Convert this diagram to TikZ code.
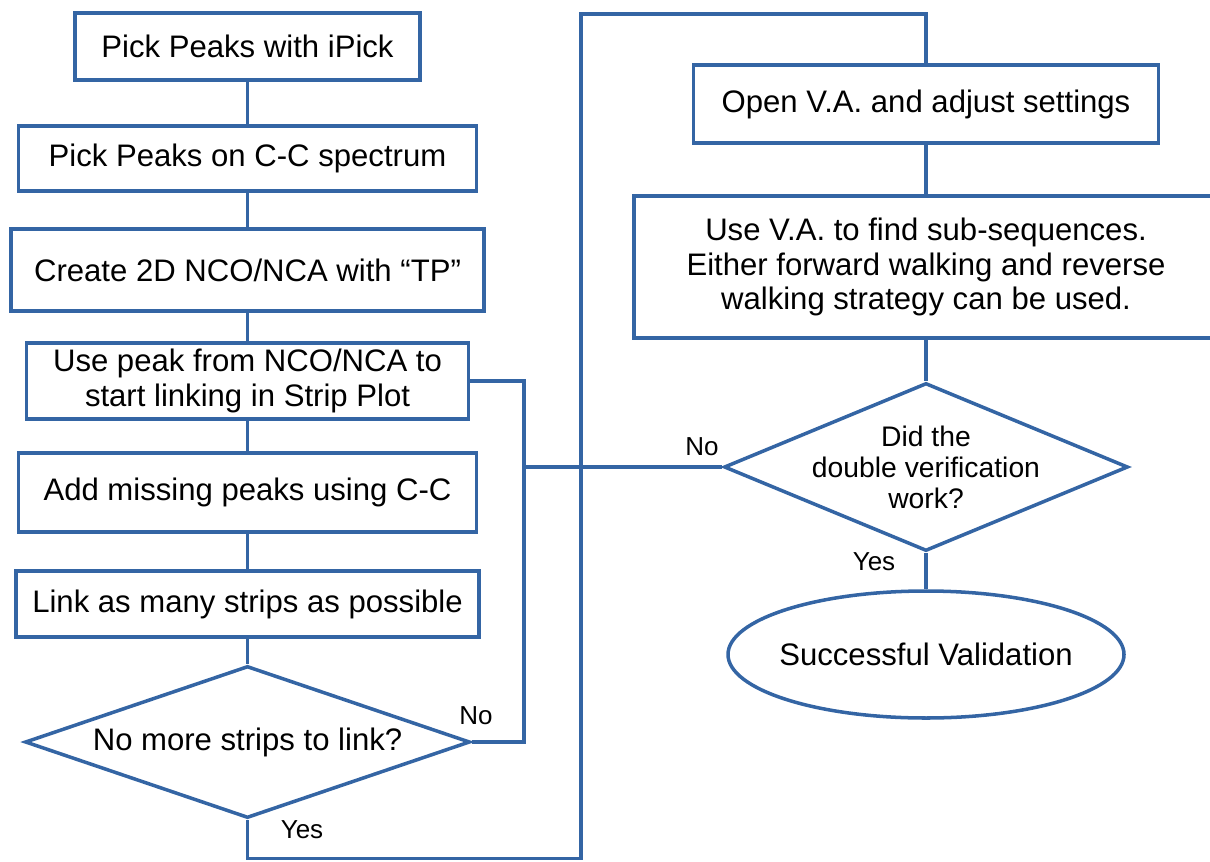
\documentclass[tikz,border=0pt]{standalone}
\usepackage{fontspec}
\setmainfont{Liberation Sans}
\usetikzlibrary{shapes.geometric}

\definecolor{flowblue}{RGB}{52,101,164}
\tikzset{
    procbox/.style={draw=flowblue, line width=2pt, fill=white, align=center,
        inner sep=0pt, font=\fontsize{17.7}{19.4}\selectfont},
    choice/.style={diamond, draw=flowblue, line width=2pt, inner sep=0pt},
    finish/.style={ellipse, draw=flowblue, line width=2pt, inner sep=0pt},
    wire/.style={draw=flowblue, line width=2pt},
    answer/.style={font=\fontsize{14.8}{17}\selectfont},
}

\begin{document}
\begin{tikzpicture}
            \useasboundingbox (0,0) rectangle (24.2,17.22);

            \node[procbox, minimum width=6.9cm, minimum height=1.34cm] (ipick) at (4.95,16.29) {Pick Peaks with iPick};
            \node[procbox, minimum width=9.16cm, minimum height=1.3cm] (ccpeaks) at (4.95,14.05) {Pick Peaks on C-C spectrum};
            \node[procbox, minimum width=9.46cm, minimum height=1.64cm] (tpmap) at (4.95,11.82) {Create 2D NCO/NCA with “TP”};
            \node[procbox, minimum width=8.84cm, minimum height=1.52cm] (linking) at (4.95,9.6) {Use peak from NCO/NCA to\\start linking in Strip Plot};
            \node[procbox, minimum width=9.16cm, minimum height=1.58cm] (missing) at (4.95,7.37) {Add missing peaks using C-C};
            \node[procbox, minimum width=9.26cm, minimum height=1.32cm] (strips) at (4.95,5.14) {Link as many strips as possible};
            \node[choice, minimum width=8.9cm, minimum height=3.04cm] (nomore) at (4.95,2.38) {};
            \node[font=\fontsize{17.7}{19.4}\selectfont] (nomoretxt) at (nomore) {No more strips to link?};

            \node[procbox, minimum width=9.3cm, minimum height=1.56cm] (openva) at (18.52,15.14) {Open V.A. and adjust settings};
            \node[procbox, minimum width=11.68cm, minimum height=2.84cm] (walking) at (18.52,11.88) {Use V.A. to find sub-sequences.\\Either forward walking and reverse\\walking strategy can be used.};
            \node[choice, minimum width=8.08cm, minimum height=3.36cm] (work) at (18.52,7.88) {};
            \node[align=center, font=\fontsize{16.1}{17.6}\selectfont] (worktxt) at (work) {Did the\\double verification\\work?};
            \node[finish, minimum width=7.92cm, minimum height=2.54cm] (success) at (18.52,4.13) {};
            \node[font=\fontsize{17.7}{19.4}\selectfont] (successtxt) at (success) {Successful Validation};

            \coordinate (loop) at (10.48,7.88);
            \coordinate (down) at (11.62,0.05);
            \coordinate (up) at (11.62,16.94);

            \draw[wire] (ipick) -- (ccpeaks);
            \draw[wire] (ccpeaks) -- (tpmap);
            \draw[wire] (tpmap) -- (linking);
            \draw[wire] (linking) -- (missing);
            \draw[wire] (missing) -- (strips);
            \draw[wire] (strips) -- (nomore);
            \draw[wire] (nomore.east) -| (loop) |- (linking.east);
            \draw[wire] (work.west) -- (loop);
            \draw[wire] (nomore.south) |- (down) -- (up) -| (openva.north);
            \draw[wire] (openva) -- (walking);
            \draw[wire] (walking) -- (work.north);
            \draw[wire] (work.south) -- (success);

            \node[answer] (no1) at (9.52,2.9) {No};
            \node[answer] (yes1) at (6.04,0.62) {Yes};
            \node[answer] (no2) at (14.04,8.28) {No};
            \node[answer] (yes2) at (17.48,5.98) {Yes};
    \end{tikzpicture}
\end{document}
